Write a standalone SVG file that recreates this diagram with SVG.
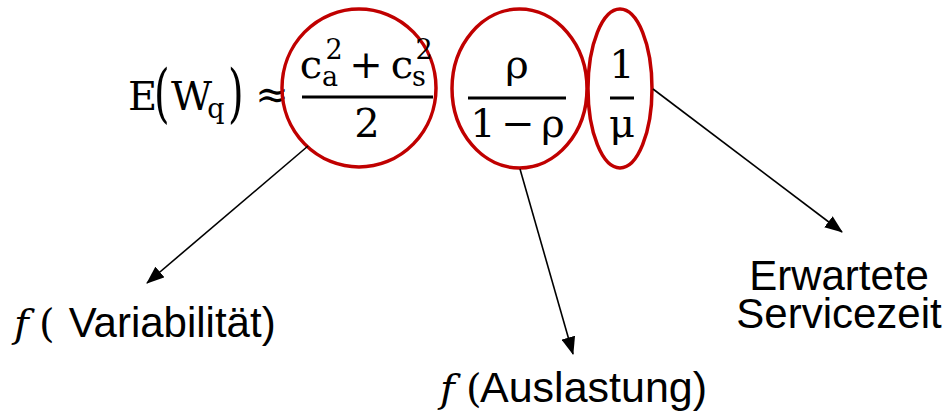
<svg xmlns="http://www.w3.org/2000/svg" width="951" height="416" viewBox="0 0 951 416">
  <defs>
    <style>
      .m { font-family: "DejaVu Serif", "Liberation Serif", serif; font-size: 40px; fill: #000; }
      .ms { font-family: "DejaVu Serif", "Liberation Serif", serif; font-size: 27px; fill: #000; }
      .mi { font-family: "DejaVu Serif", "Liberation Serif", serif; font-style: italic; font-size: 40px; fill: #000; }
      .lbl { font-family: "Liberation Sans", Arial, sans-serif; font-size: 43px; fill: #000; }
      .ring { fill: none; stroke: #C00000; stroke-width: 3.5; }
      .bar { fill: #000; }
      .conn { stroke: #000; stroke-width: 1.6; fill: none; marker-end: url(#head); }
    </style>
    <marker id="head" viewBox="0 0 18 14" refX="17" refY="7" markerWidth="18" markerHeight="14" markerUnits="userSpaceOnUse" orient="auto">
      <path d="M0,0 L18,7 L0,14 Z" fill="#000"/>
    </marker>
  </defs>

  <!-- left-hand side: E(W_q) ≈ -->
  <g id="lhs">
    <text class="m" x="128" y="110">E</text>
    <text class="m" transform="translate(154,115) scale(1,1.6)">(</text>
    <text class="m" x="171" y="110">W</text>
    <text class="ms" x="216" y="118" text-anchor="middle">q</text>
    <text class="m" transform="translate(228,115) scale(1,1.6)">)</text>
    <text class="m" x="272" y="108" text-anchor="middle">≈</text>
  </g>

  <!-- variability term -->
  <g id="term-variability">
    <ellipse class="ring" cx="359" cy="88" rx="77" ry="79"/>
    <text class="m" x="311" y="78" text-anchor="middle">c</text>
    <text class="ms" x="334" y="59" text-anchor="middle">2</text>
    <text class="ms" x="330" y="86" text-anchor="middle">a</text>
    <text class="m" x="366" y="78" text-anchor="middle">+</text>
    <text class="m" x="402" y="78" text-anchor="middle">c</text>
    <text class="ms" x="424" y="59" text-anchor="middle">2</text>
    <text class="ms" x="419" y="86" text-anchor="middle">s</text>
    <rect class="bar" x="302" y="95.5" width="131" height="3"/>
    <text class="m" x="367" y="137" text-anchor="middle">2</text>
  </g>

  <!-- utilisation term -->
  <g id="term-utilisation">
    <ellipse class="ring" cx="519.5" cy="88.5" rx="67.5" ry="79.5"/>
    <text class="m" x="517" y="78" text-anchor="middle">ρ</text>
    <rect class="bar" x="468" y="96.5" width="98" height="3"/>
    <text class="m" x="483" y="137" text-anchor="middle">1</text>
    <text class="m" x="518" y="137" text-anchor="middle">−</text>
    <text class="m" x="553" y="137" text-anchor="middle">ρ</text>
  </g>

  <!-- service time term -->
  <g id="term-service">
    <ellipse class="ring" cx="620" cy="88.5" rx="32" ry="79.5"/>
    <text class="m" x="622" y="78" text-anchor="middle">1</text>
    <rect class="bar" x="610" y="96.5" width="24" height="3"/>
    <text class="m" x="622" y="137" text-anchor="middle">μ</text>
  </g>

  <!-- connectors -->
  <g id="connectors">
    <line class="conn" x1="308" y1="146" x2="147" y2="283"/>
    <line class="conn" x1="520" y1="169" x2="573" y2="354"/>
    <line class="conn" x1="653" y1="89" x2="842" y2="232"/>
  </g>

  <!-- labels -->
  <g id="label-variability">
    <text class="mi" x="14" y="337">f</text>
    <text class="m" x="39" y="337">(</text>
    <text class="lbl" x="57" y="337" xml:space="preserve" style="font-size:42px"> Variabilität)</text>
  </g>

  <g id="label-utilisation">
    <text class="mi" x="440" y="402">f</text>
    <text class="m" x="466" y="402">(</text>
    <text class="lbl" x="480" y="402">Auslastung)</text>
  </g>

  <g id="label-service">
    <text class="lbl" x="839" y="290" text-anchor="middle" style="font-size:42px">Erwartete</text>
    <text class="lbl" x="839" y="328" text-anchor="middle" style="font-size:42px">Servicezeit</text>
  </g>
</svg>
